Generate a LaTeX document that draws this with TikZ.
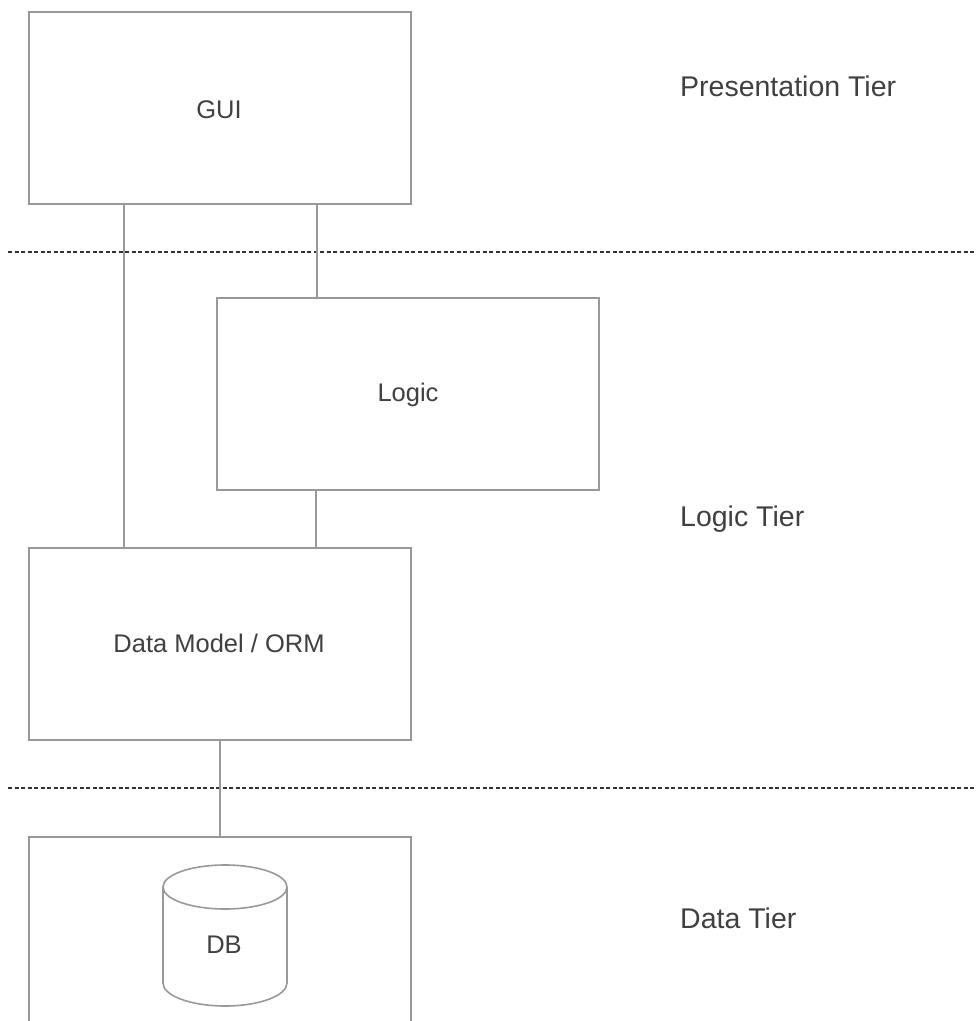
\documentclass[tikz,border=0pt]{standalone}
\usepackage{fontspec}
\setmainfont{Liberation Sans}
\begin{document}
\begin{tikzpicture}[x=1pt,y=-1pt,
  box/.style={draw=linegray,line width=1.6pt,fill=white,minimum width=382pt,minimum height=192pt,inner sep=0pt},
  lbl/.style={inner sep=0pt,text=txtgray,font=\fontsize{25.5}{30}\selectfont},
  tier/.style={anchor=west,inner sep=0pt,font=\fontsize{28.5}{34}\selectfont,text=txtgray},
  conn/.style={draw=linegray,line width=1.6pt},
  sep/.style={draw=sepgray,line width=1.3pt,dash pattern=on 4pt off 2.5pt}]
\definecolor{linegray}{HTML}{999999}
\definecolor{txtgray}{HTML}{404040}
\definecolor{sepgray}{HTML}{333333}
\useasboundingbox (0,0) rectangle (976,1021);
\clip (0,0) rectangle (976,1021);
% separators
\coordinate (s1a) at (8,252);
\coordinate (s1b) at (976,252);
\coordinate (s2a) at (8,788);
\coordinate (s2b) at (976,788);
\draw[sep] (s1a) -- (s1b);
\draw[sep] (s2a) -- (s2b);
% boxes
\node[box] (gui) at (220,108) {};
\node[lbl] (guit) at (219,110) {GUI};
\node[box] (logic) at (408,394) {};
\node[lbl] (logict) at (408,395) {Logic};
\node[box] (dm) at (220,644) {};
\node[lbl] (dmt) at (219,643) {Data Model / ORM};
\node[box,minimum height=250pt,anchor=north] (data) at (220,836) {};
% connectors
\coordinate (g1) at (124,204);
\coordinate (d1) at (124,548);
\draw[conn,line width=2.4pt] (g1) -- (d1);
\draw[conn] (317,204) coordinate (g2) -- (317,298) coordinate (l1);
\draw[conn] (316,490) coordinate (l2) -- (316,548) coordinate (d2);
\draw[conn] (dm.south) -- (data.north);
% cylinder
\draw[conn,fill=white] (163,887) -- (163,983) arc[start angle=180,end angle=360,x radius=62,y radius=-23] -- (287,887);
\draw[conn,fill=white] (225,887) ellipse[x radius=62,y radius=22];
\node[lbl] (db) at (224,945) {DB};
% tier labels
\node[tier] (pt) at (680,86) {Presentation Tier};
\node[tier] (lt) at (680,519) {Logic Tier};
\node[tier] (dt) at (680,918) {Data Tier};
\end{tikzpicture}
\end{document}
